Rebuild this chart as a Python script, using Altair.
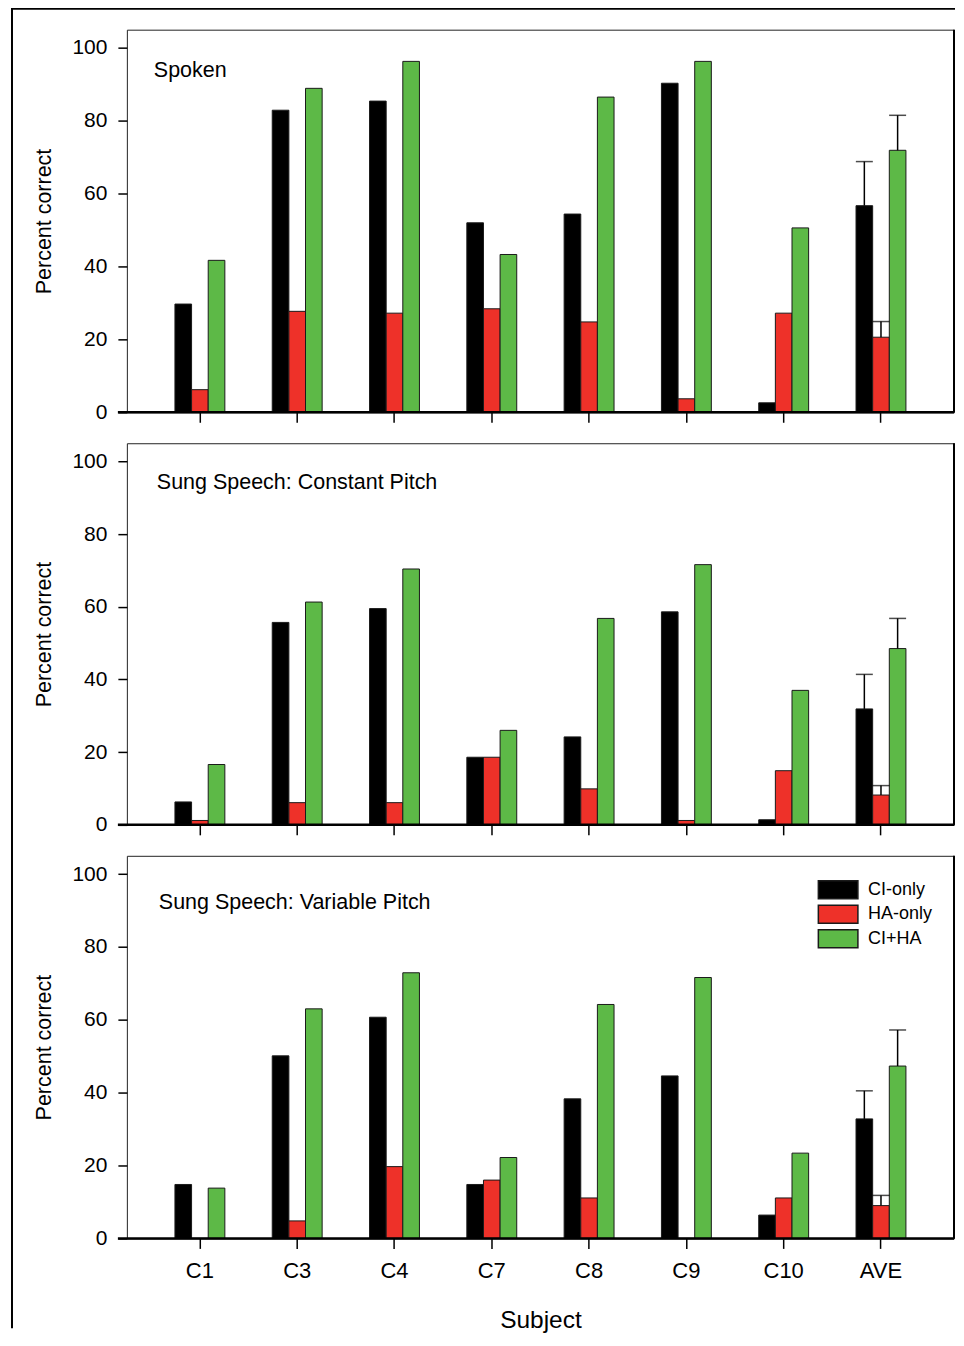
import altair as alt
import pandas as pd

subjects = ["C1", "C3", "C4", "C7", "C8", "C9", "C10", "AVE"]
conds = ["CI-only", "HA-only", "CI+HA"]
colors = ["#000000", "#EE3129", "#5DB947"]

panel_titles = ["Spoken", "Sung Speech: Constant Pitch", "Sung Speech: Variable Pitch"]

# Panel 1: Spoken
spoken_ci = [29.7, 82.9, 85.4, 52.0, 54.4, 90.3, 2.6, 56.7]
spoken_ha = [6.2, 27.7, 27.2, 28.4, 24.8, 3.7, 27.2, 20.6]
spoken_ciha = [41.7, 88.9, 96.3, 43.3, 86.5, 96.3, 50.6, 71.9]
spoken_err = [68.8, 24.9, 81.5]  # AVE error-bar tops (CI, HA, CI+HA)

# Panel 2: Sung speech, constant pitch
const_ci = [6.3, 55.7, 59.5, 18.6, 24.2, 58.6, 1.4, 31.9]
const_ha = [1.2, 6.1, 6.1, 18.6, 9.9, 1.2, 14.9, 8.2]
const_ciha = [16.6, 61.3, 70.4, 26.0, 56.8, 71.6, 37.0, 48.5]
const_err = [41.4, 10.8, 56.8]

# Panel 3: Sung speech, variable pitch
var_ci = [14.8, 50.1, 60.7, 14.8, 38.3, 44.6, 6.4, 32.8]
var_ha = [0.0, 4.8, 19.7, 16.0, 11.1, 0.0, 11.1, 9.0]
var_ciha = [13.8, 63.0, 72.9, 22.2, 64.2, 71.6, 23.4, 47.3]
var_err = [40.5, 11.8, 57.2]

panels = [
    (spoken_ci, spoken_ha, spoken_ciha, spoken_err),
    (const_ci, const_ha, const_ciha, const_err),
    (var_ci, var_ha, var_ciha, var_err),
]

W = 828
HS = [383, 382, 383]
FONT = "Liberation Sans"


def make_df(ci, ha, ciha):
    rows = []
    for s, a, b, c in zip(subjects, ci, ha, ciha):
        rows.append({"subject": s, "cond": conds[0], "value": a})
        rows.append({"subject": s, "cond": conds[1], "value": b})
        rows.append({"subject": s, "cond": conds[2], "value": c})
    return pd.DataFrame(rows)


def make_err(ci, ha, ciha, err):
    vals = [ci[-1], ha[-1], ciha[-1]]
    return pd.DataFrame({"subject": ["AVE"] * 3, "cond": conds, "value": vals, "err": err})


def panel(i):
    ci, ha, ciha, err = panels[i]
    H = HS[i]
    df = make_df(ci, ha, ciha)
    edf = make_err(ci, ha, ciha, err)
    last = i == 2

    xscale = alt.Scale(domain=subjects, paddingInner=0.487, paddingOuter=0.494)
    xoff = alt.XOffset("cond:N", sort=conds, scale=alt.Scale(domain=conds, paddingInner=0, paddingOuter=0))
    if last:
        xaxis = alt.Axis(title="Subject", labels=True, domain=False, ticks=True, tickSize=10,
                         tickWidth=1.5, tickColor="#000", labelFontSize=22, labelPadding=12,
                         labelColor="#000", titleFontSize=24.5, titleFontWeight="normal",
                         titlePadding=27, titleColor="#000", labelAngle=0)
    else:
        xaxis = alt.Axis(title=None, labels=False, domain=False, ticks=True, tickSize=10,
                         tickWidth=1.5, tickColor="#000")
    x = alt.X("subject:N", sort=subjects, scale=xscale, axis=xaxis)
    yscale = alt.Scale(domain=[0, 105], nice=False, zero=True)
    y = alt.Y("value:Q", scale=yscale,
              axis=alt.Axis(title="Percent correct", values=[0, 20, 40, 60, 80, 100], grid=False,
                            domain=False, tickSize=9, tickWidth=1.5, tickColor="#000",
                            labelFontSize=21, labelPadding=11, labelColor="#000",
                            titleFontSize=21.5, titleFontWeight="normal", titleColor="#000",
                            titlePadding=16))
    if last:
        legend = alt.Legend(title=None, orient="none", legendX=702, legendY=24, padding=0,
                            symbolType="M-2.2,-1L2.2,-1L2.2,1L-2.2,1Z", symbolSize=324,
                            symbolStrokeColor="#1a1a1a", symbolStrokeWidth=1.5,
                            symbolOpacity=1, labelFontSize=18, labelOffset=20, rowPadding=0.5,
                            labelColor="#000")
    else:
        legend = None
    color = alt.Color("cond:N", sort=conds, scale=alt.Scale(domain=conds, range=colors), legend=legend)

    bars = alt.Chart(df).mark_bar(stroke="#1a1a1a", strokeWidth=1).encode(
        x=x, xOffset=xoff, y=y, color=color)

    ebase = alt.Chart(edf)
    erule = ebase.mark_rule(color="#000", strokeWidth=1.5).encode(
        x=alt.X("subject:N", sort=subjects, scale=xscale), xOffset=xoff,
        y=alt.Y("value:Q", scale=yscale), y2="err:Q")
    ecap = ebase.mark_tick(color="#000", orient="horizontal", size=17, thickness=1.5).encode(
        x=alt.X("subject:N", sort=subjects, scale=xscale), xOffset=xoff,
        y=alt.Y("err:Q", scale=yscale))

    one = pd.DataFrame({"t": [panel_titles[i]]})
    offs = [(27, 41), (30, 40), (32, 47)][i]
    title = alt.Chart(one).mark_text(align="left", baseline="middle", fontSize=21.5, color="#000").encode(
        x=alt.value(offs[0]), y=alt.value(offs[1]), text="t:N")

    base_rule = alt.Chart(one).mark_rule(color="#000", strokeWidth=2.5).encode(
        x=alt.value(-9), x2=alt.value(W), y=alt.value(H))
    right_rule = alt.Chart(one).mark_rule(color="#000", strokeWidth=2).encode(
        x=alt.value(W), y=alt.value(0), y2=alt.value(H))

    layers = [bars, erule, ecap, title, base_rule, right_rule]
    if i == 0:
        top_border = alt.Chart(one).mark_rect(color="#000", strokeWidth=0).encode(
            x=alt.value(-116), x2=alt.value(W + 1), y=alt.value(-22), y2=alt.value(-20))
        left_border = alt.Chart(one).mark_rect(color="#000", strokeWidth=0).encode(
            x=alt.value(-116), x2=alt.value(-114), y=alt.value(-22), y2=alt.value(1300))
        layers += [top_border, left_border]
    return alt.layer(*layers).properties(width=W, height=H)


p1, p2, p3 = panel(0), panel(1), panel(2)
chart = alt.vconcat(p1, p2, p3, spacing=31, bounds="flush").resolve_legend(
    color="independent"
).properties(
    padding={"left": 2, "top": -2, "right": 0, "bottom": 4}
).configure(font=FONT).configure_view(stroke="#222", strokeWidth=1)

chart.save("out.html", embed_options={"renderer": "svg", "actions": False})
